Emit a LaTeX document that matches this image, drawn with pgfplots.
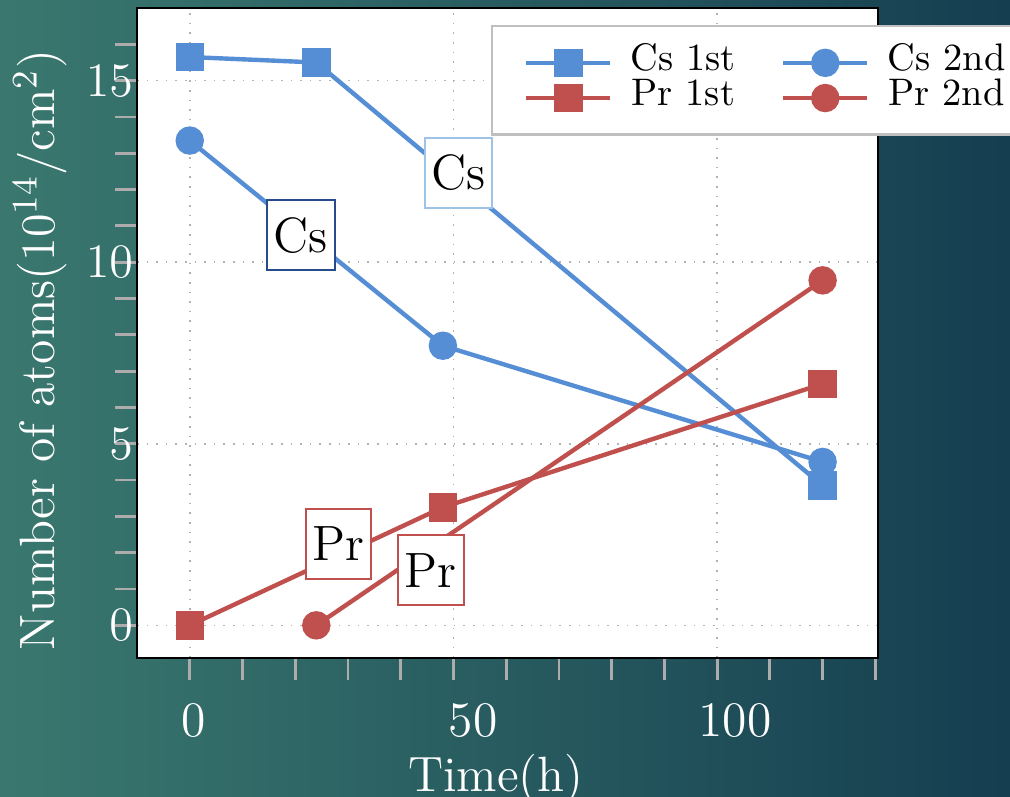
\documentclass[border=0pt]{standalone}
\usepackage{pgfplots}
\pgfplotsset{compat=1.18}
\definecolor{bgL}{RGB}{58,120,111}
\definecolor{bgR}{RGB}{21,62,80}
\definecolor{cblue}{RGB}{85,142,213}
\definecolor{cred}{RGB}{192,80,77}
\definecolor{dblue}{RGB}{38,76,140}
\definecolor{lblue}{RGB}{157,195,230}
\begin{document}
\begin{tikzpicture}
\shade[left color=bgL,right color=bgR] (0pt,0pt) rectangle (252.5pt,-199pt);
\clip (0pt,0pt) rectangle (252.5pt,-199pt);
\useasboundingbox (0pt,0pt) rectangle (252.5pt,-199pt);
\begin{axis}[
  at={(34.25pt,-164.5pt)}, anchor=south west,
  scale only axis, width=185.25pt, height=162.5pt,
  xmin=-10, xmax=130.5, ymin=-0.9, ymax=17,
  axis background/.style={fill=white},
  axis line style={black, line width=0.6pt},
  xtick={0,50,100},
  xticklabels={{\hspace*{2pt}0},{\hspace*{9.8pt}50},{\hspace*{9pt}100}},
  minor xtick={10,20,30,40,60,70,80,90,110,120,130},
  ytick={0,5,10,15},
  minor ytick={1,2,3,4,6,7,8,9,11,12,13,14,16},
  tick align=outside, tick pos=left,
  major tick length=5.5pt, minor tick length=5.5pt,
  every tick/.style={color=gray!65, line width=0.7pt},
  grid=major,
  major grid style={dotted, color=gray!60, line width=0.4pt},
  ticklabel style={font=\fontsize{12.4}{14}\selectfont, text=white},
  xticklabel style={yshift=-2.3pt},
  yticklabel style={xshift=8pt},
  xlabel={Time(h)},
  xlabel style={at={(axis description cs:0.4845,-0.206)}, anchor=base, font=\fontsize{12.4}{14}\selectfont, text=white},
  ylabel={Number of atoms($10^{14}$/cm$^2$)},
  ylabel style={at={(axis description cs:-0.131,0.474)}, anchor=center, font=\fontsize{12.4}{14}\selectfont, text=white},
  legend columns=2,
  legend image code/.code={\draw[mark repeat=2,mark phase=2,#1] plot coordinates {(0pt,0pt) (10.5pt,0pt) (21pt,0pt)};},
  legend style={at={(axis description cs:0.4777,0.9738)}, anchor=north west,
    draw=gray!50, line width=0.6pt, fill=white,
    font=\fontsize{9.6}{10}\selectfont,
    inner xsep=8pt, inner ysep=4.6pt, row sep=-0.3pt,
    column sep=4pt, /tikz/column 2/.style={column sep=10.7pt},
    nodes={inner sep=0.6pt, text height=5.9pt, text depth=2.0pt}},
]
\addlegendimage{cblue, line width=1.1pt, mark=square*, mark size=3pt}
\addlegendentry{Cs 1st}
\addlegendimage{cblue, line width=1.1pt, mark=*, mark size=3pt}
\addlegendentry{Cs 2nd}
\addlegendimage{cred, line width=1.1pt, mark=square*, mark size=3pt}
\addlegendentry{Pr 1st}
\addlegendimage{cred, line width=1.1pt, mark=*, mark size=3pt}
\addlegendentry{Pr 2nd}
\addplot[forget plot, cblue, line width=1.1pt, mark=*, mark size=3pt] coordinates {(0,13.35) (48,7.7) (120,4.5)};
\addplot[forget plot, cblue, line width=1.1pt, mark=square*, mark size=3pt] coordinates {(0,15.65) (24,15.5) (120,3.85)};
\addplot[forget plot, cred, line width=1.1pt, mark=square*, mark size=3pt] coordinates {(0,0) (48,3.25) (120,6.65)};
\addplot[forget plot, cred, line width=1.1pt, mark=*, mark size=3pt] coordinates {(24,0) (120,9.5)};
\node[draw=dblue, line width=0.5pt, fill=white, font=\fontsize{12.4}{14}\selectfont, inner xsep=1.7pt, minimum height=17.5pt] at (axis cs:21.1,10.74) {Cs};
\node[draw=lblue, line width=0.5pt, fill=white, font=\fontsize{12.4}{14}\selectfont, inner xsep=1.7pt, minimum height=17.5pt] at (axis cs:50.95,12.47) {Cs};
\node[draw=cred, line width=0.5pt, fill=white, font=\fontsize{12.4}{14}\selectfont, inner xsep=1.7pt, minimum height=17.5pt] at (axis cs:28.2,2.25) {Pr};
\node[draw=cred, line width=0.5pt, fill=white, font=\fontsize{12.4}{14}\selectfont, inner xsep=1.7pt, minimum height=17.5pt] at (axis cs:45.7,1.52) {Pr};
\end{axis}
\end{tikzpicture}
\end{document}
